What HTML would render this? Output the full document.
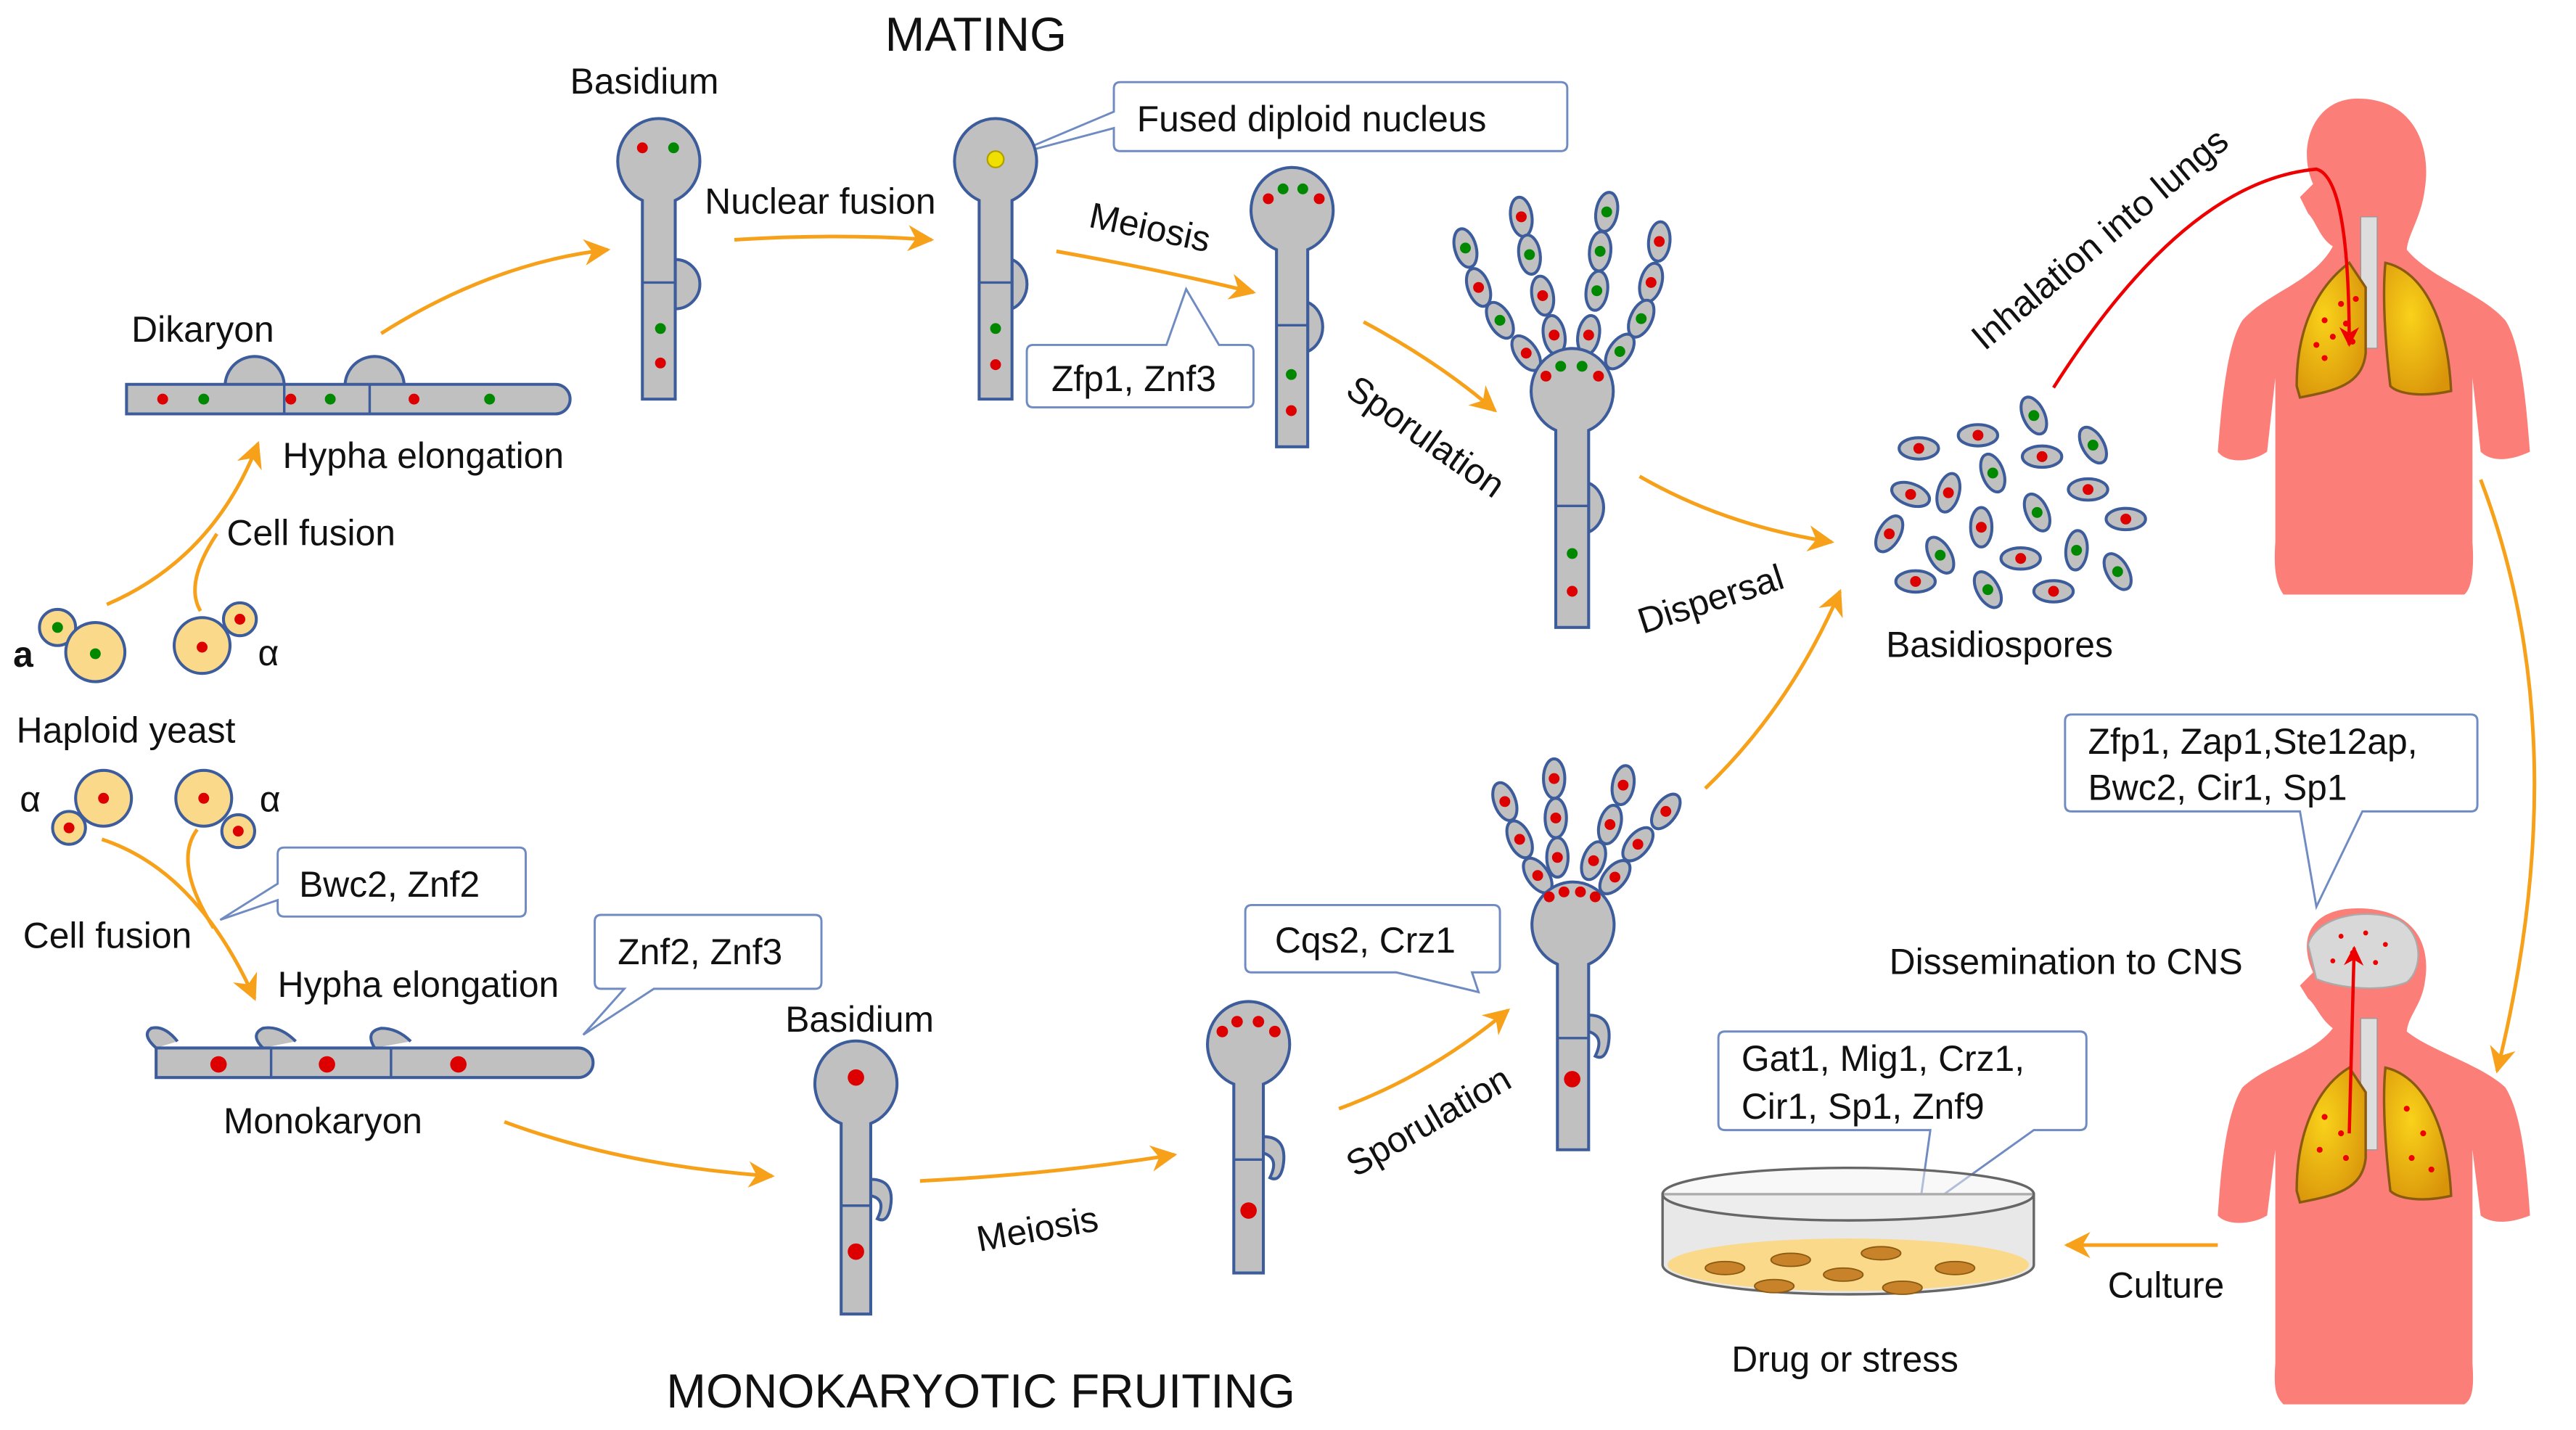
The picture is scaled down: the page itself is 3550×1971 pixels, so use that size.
<!DOCTYPE html>
<html><head><meta charset="utf-8"><style>
html,body{margin:0;padding:0;background:#fff}
svg{display:block}
text{font-family:"Liberation Sans",Arial,sans-serif;fill:#111;font-size:22px}
.c{fill:#c0c0c0;stroke:#3d5c9c;stroke-width:1.8}
.a{fill:none;stroke:#f7a11a;stroke-width:2.2}
.bx{fill:#fff;stroke:#6f8bc2;stroke-width:1.3}
.y{fill:#fbd98a;stroke:#3d5c9c;stroke-width:1.8}
</style></head><body>
<svg width="3550" height="1971" viewBox="0 0 1568 870.6" xmlns="http://www.w3.org/2000/svg">
<defs>
<marker id="mo" viewBox="0 0 10 10" refX="9" refY="5" markerWidth="16" markerHeight="16" orient="auto" markerUnits="userSpaceOnUse">
<path d="M0,0 L10,5 L0,10 L3,5 z" fill="#f7a11a"/></marker>
<marker id="mr" viewBox="0 0 10 10" refX="9" refY="5" markerWidth="12" markerHeight="12" orient="auto" markerUnits="userSpaceOnUse">
<path d="M0,0 L10,5 L0,10 L3,5 z" fill="#e00"/></marker>
<radialGradient id="lg" cx="0.4" cy="0.4" r="0.7"><stop offset="0" stop-color="#f9d21a"/><stop offset="1" stop-color="#d9940a"/></radialGradient>
</defs>

<text x="594" y="31" text-anchor="middle" style="font-size:29px">MATING</text>
<text x="597" y="857" text-anchor="middle" style="font-size:29px">MONOKARYOTIC FRUITING</text>

<text x="347" y="57">Basidium</text>
<text x="80" y="208">Dikaryon</text>
<text x="429" y="130">Nuclear fusion</text>
<text x="172" y="285">Hypha elongation</text>
<text x="138" y="332">Cell fusion</text>
<text x="8" y="406" style="font-weight:bold">a</text>
<text x="157" y="405">α</text>
<text x="10" y="452">Haploid yeast</text>
<text x="12" y="494">α</text>
<text x="158" y="494">α</text>
<text x="14" y="577">Cell fusion</text>
<text x="169" y="607">Hypha elongation</text>
<text x="136" y="690">Monokaryon</text>
<text x="478" y="628">Basidium</text>
<text x="1148" y="400">Basidiospores</text>
<text x="1150" y="593">Dissemination  to CNS</text>
<text x="1283" y="790">Culture</text>
<text x="1054" y="835">Drug or stress</text>
<text transform="translate(662,138) rotate(12)">Meiosis</text>
<text transform="translate(818,240) rotate(35)">Sporulation</text>
<text transform="translate(1000,386) rotate(-18)">Dispersal</text>
<text transform="translate(1208,214) rotate(-40)">Inhalation into lungs</text>
<text transform="translate(596,762) rotate(-10)">Meiosis</text>
<text transform="translate(825,717) rotate(-30)">Sporulation</text>

<path class="bx" d="M682,50 H950 Q954,50 954,54 V88 Q954,92 950,92 H682 Q678,92 678,88 V78 L614,95 L678,68 V54 Q678,50 682,50 Z"/>
<text x="692" y="80">Fused diploid nucleus</text>
<path class="bx" d="M629,210 H710 L722,176 L742,210 H759 Q763,210 763,214 V244 Q763,248 759,248 H629 Q625,248 625,244 V214 Q625,210 629,210 Z"/>
<text x="640" y="238">Zfp1, Znf3</text>
<path class="bx" d="M173,516 H316 Q320,516 320,520 V554 Q320,558 316,558 H173 Q169,558 169,554 V548 L134,560 L169,538 V520 Q169,516 173,516 Z"/>
<text x="182" y="546">Bwc2, Znf2</text>
<path class="bx" d="M366,557 H496 Q500,557 500,561 V598 Q500,602 496,602 H398 L355,630 L380,602 H366 Q362,602 362,598 V561 Q362,557 366,557 Z"/>
<text x="376" y="587">Znf2, Znf3</text>
<path class="bx" d="M762,551 H909 Q913,551 913,555 V588 Q913,592 909,592 H896 L900,604 L850,592 H762 Q758,592 758,588 V555 Q758,551 762,551 Z"/>
<text x="776" y="580">Cqs2, Crz1</text>
<path class="bx" d="M1261,435 H1504 Q1508,435 1508,439 V490 Q1508,494 1504,494 H1438 L1410,552 L1400,494 H1261 Q1257,494 1257,490 V439 Q1257,435 1261,435 Z"/>
<text x="1271" y="459">Zfp1, Zap1,Ste12ap,</text>
<text x="1271" y="487">Bwc2, Cir1, Sp1</text>
<path class="bx" d="M1050,628 H1266 Q1270,628 1270,632 V684 Q1270,688 1266,688 H1238 L1168,738 L1175,688 H1050 Q1046,688 1046,684 V632 Q1046,628 1050,628 Z"/>
<text x="1060" y="652">Gat1, Mig1, Crz1,</text>
<text x="1060" y="681">Cir1, Sp1, Znf9</text>

<path class="a" marker-end="url(#mo)" d="M232,203 Q300,160 370,152"/>
<path class="a" marker-end="url(#mo)" d="M447,146 Q510,142 567,146"/>
<path class="a" marker-end="url(#mo)" d="M643,153 Q710,165 763,178"/>
<path class="a" marker-end="url(#mo)" d="M830,196 Q875,220 910,250"/>
<path class="a" marker-end="url(#mo)" d="M998,290 Q1050,320 1115,330"/>
<path class="a" marker-end="url(#mo)" d="M65,368 Q130,340 157,270"/>
<path class="a" d="M122,372 Q112,355 132,325"/>
<path class="a" marker-end="url(#mo)" d="M62,511 Q120,530 155,608"/>
<path class="a" d="M120,505 Q105,525 130,565"/>
<path class="a" marker-end="url(#mo)" d="M307,683 Q380,710 470,716"/>
<path class="a" marker-end="url(#mo)" d="M560,719 Q640,715 715,703"/>
<path class="a" marker-end="url(#mo)" d="M815,675 Q870,655 918,615"/>
<path class="a" marker-end="url(#mo)" d="M1038,480 Q1090,430 1120,360"/>
<path class="a" marker-end="url(#mo)" d="M1510,292 Q1570,450 1520,652"/>
<path class="a" marker-end="url(#mo)" d="M1350,758 L1258,758"/>

<path class="c" d="M137,235 A18,18 0 0 1 173,235 Z"/>
<path class="c" d="M210,235 A18,18 0 0 1 246,235 Z"/>
<path class="c" d="M77,234 H338 A9,9 0 0 1 338,252 H77 Z"/>
<line x1="173" y1="234" x2="173" y2="252" stroke="#3d5c9c" stroke-width="1.5"/>
<line x1="225" y1="234" x2="225" y2="252" stroke="#3d5c9c" stroke-width="1.5"/>
<circle cx="99" cy="243" r="3.3" fill="#d00"/><circle cx="124" cy="243" r="3.3" fill="#080"/>
<circle cx="177" cy="243" r="3.3" fill="#d00"/><circle cx="201" cy="243" r="3.3" fill="#080"/>
<circle cx="252" cy="243" r="3.3" fill="#d00"/><circle cx="298" cy="243" r="3.3" fill="#080"/>

<path class="c" d="M411,158 A14,14 0 0 1 411,188 Z"/>
<path class="c" d="M391,243 V122 A25,26 0 1 1 411,122 V243 Z"/>
<line x1="391" y1="172" x2="411" y2="172" stroke="#3d5c9c" stroke-width="1.5"/>
<circle cx="391" cy="90" r="3.3" fill="#d00"/><circle cx="410" cy="90" r="3.3" fill="#080"/>
<circle cx="402" cy="200" r="3.3" fill="#080"/><circle cx="402" cy="221" r="3.3" fill="#d00"/>

<path class="c" d="M616,158 A14,16 0 0 1 616,188 Z"/>
<path class="c" d="M596,243 V122 A25,26 0 1 1 616,122 V243 Z"/>
<line x1="596" y1="172" x2="616" y2="172" stroke="#3d5c9c" stroke-width="1.5"/>
<circle cx="606" cy="97" r="5" fill="#f0e000" stroke="#b0a000"/>
<circle cx="606" cy="200" r="3.3" fill="#080"/><circle cx="606" cy="222" r="3.3" fill="#d00"/>

<path class="c" d="M796,184 A14,16 0 0 1 796,214 Z"/>
<path class="c" d="M777,272 V152 A25,26 0 1 1 796,152 V272 Z"/>
<line x1="777" y1="198" x2="796" y2="198" stroke="#3d5c9c" stroke-width="1.5"/>
<circle cx="772" cy="121" r="3.3" fill="#d00"/><circle cx="781" cy="115" r="3.3" fill="#080"/>
<circle cx="793" cy="115" r="3.3" fill="#080"/><circle cx="803" cy="121" r="3.3" fill="#d00"/>
<circle cx="786" cy="228" r="3.3" fill="#080"/><circle cx="786" cy="250" r="3.3" fill="#d00"/>

<g>
<ellipse class="c" cx="892" cy="151" rx="6.5" ry="12" transform="rotate(-15 892 151)"/><circle cx="892" cy="151" r="3.3" fill="#080"/>
<ellipse class="c" cx="900" cy="175" rx="6.5" ry="12" transform="rotate(-20 900 175)"/><circle cx="900" cy="175" r="3.3" fill="#d00"/>
<ellipse class="c" cx="913" cy="195" rx="6.5" ry="12" transform="rotate(-30 913 195)"/><circle cx="913" cy="195" r="3.3" fill="#080"/>
<ellipse class="c" cx="929" cy="215" rx="6.5" ry="12" transform="rotate(-35 929 215)"/><circle cx="929" cy="215" r="3.3" fill="#d00"/>
<ellipse class="c" cx="926" cy="132" rx="6.5" ry="12" transform="rotate(-8 926 132)"/><circle cx="926" cy="132" r="3.3" fill="#d00"/>
<ellipse class="c" cx="931" cy="155" rx="6.5" ry="12" transform="rotate(-8 931 155)"/><circle cx="931" cy="155" r="3.3" fill="#080"/>
<ellipse class="c" cx="939" cy="180" rx="6.5" ry="12" transform="rotate(-10 939 180)"/><circle cx="939" cy="180" r="3.3" fill="#d00"/>
<ellipse class="c" cx="946" cy="204" rx="6.5" ry="12" transform="rotate(-10 946 204)"/><circle cx="946" cy="204" r="3.3" fill="#d00"/>
<ellipse class="c" cx="978" cy="129" rx="6.5" ry="12" transform="rotate(10 978 129)"/><circle cx="978" cy="129" r="3.3" fill="#080"/>
<ellipse class="c" cx="974" cy="153" rx="6.5" ry="12" transform="rotate(5 974 153)"/><circle cx="974" cy="153" r="3.3" fill="#080"/>
<ellipse class="c" cx="972" cy="177" rx="6.5" ry="12" transform="rotate(8 972 177)"/><circle cx="972" cy="177" r="3.3" fill="#080"/>
<ellipse class="c" cx="967" cy="204" rx="6.5" ry="12" transform="rotate(10 967 204)"/><circle cx="967" cy="204" r="3.3" fill="#d00"/>
<ellipse class="c" cx="1010" cy="147" rx="6.5" ry="12" transform="rotate(5 1010 147)"/><circle cx="1010" cy="147" r="3.3" fill="#d00"/>
<ellipse class="c" cx="1005" cy="172" rx="6.5" ry="12" transform="rotate(15 1005 172)"/><circle cx="1005" cy="172" r="3.3" fill="#d00"/>
<ellipse class="c" cx="999" cy="194" rx="6.5" ry="12" transform="rotate(25 999 194)"/><circle cx="999" cy="194" r="3.3" fill="#080"/>
<ellipse class="c" cx="986" cy="214" rx="6.5" ry="12" transform="rotate(35 986 214)"/><circle cx="986" cy="214" r="3.3" fill="#080"/>
</g>
<path class="c" d="M967,294 A14,16 0 0 1 967,324 Z"/>
<path class="c" d="M947,382 V262 A25,26 0 1 1 967,262 V382 Z"/>
<line x1="947" y1="308" x2="967" y2="308" stroke="#3d5c9c" stroke-width="1.5"/>
<circle cx="941" cy="229" r="3.3" fill="#d00"/><circle cx="950" cy="223" r="3.3" fill="#080"/>
<circle cx="963" cy="223" r="3.3" fill="#080"/><circle cx="973" cy="229" r="3.3" fill="#d00"/>
<circle cx="957" cy="337" r="3.3" fill="#080"/><circle cx="957" cy="360" r="3.3" fill="#d00"/>

<g>
<ellipse class="c" cx="1168" cy="273" rx="12" ry="6.5"/><circle cx="1168" cy="273" r="3.3" fill="#d00"/>
<ellipse class="c" cx="1204" cy="265" rx="12" ry="6.5"/><circle cx="1204" cy="265" r="3.3" fill="#d00"/>
<ellipse class="c" cx="1238" cy="253" rx="6.5" ry="12" transform="rotate(-25 1238 253)"/><circle cx="1238" cy="253" r="3.3" fill="#080"/>
<ellipse class="c" cx="1274" cy="271" rx="6.5" ry="12" transform="rotate(-30 1274 271)"/><circle cx="1274" cy="271" r="3.3" fill="#080"/>
<ellipse class="c" cx="1243" cy="278" rx="12" ry="6.5"/><circle cx="1243" cy="278" r="3.3" fill="#d00"/>
<ellipse class="c" cx="1213" cy="288" rx="6.5" ry="12" transform="rotate(-20 1213 288)"/><circle cx="1213" cy="288" r="3.3" fill="#080"/>
<ellipse class="c" cx="1271" cy="298" rx="12" ry="6.5"/><circle cx="1271" cy="298" r="3.3" fill="#d00"/>
<ellipse class="c" cx="1163" cy="301" rx="12" ry="6.5" transform="rotate(20 1163 301)"/><circle cx="1163" cy="301" r="3.3" fill="#d00"/>
<ellipse class="c" cx="1186" cy="300" rx="6.5" ry="12" transform="rotate(15 1186 300)"/><circle cx="1186" cy="300" r="3.3" fill="#d00"/>
<ellipse class="c" cx="1240" cy="312" rx="6.5" ry="12" transform="rotate(-25 1240 312)"/><circle cx="1240" cy="312" r="3.3" fill="#080"/>
<ellipse class="c" cx="1206" cy="321" rx="6.5" ry="12"/><circle cx="1206" cy="321" r="3.3" fill="#d00"/>
<ellipse class="c" cx="1294" cy="316" rx="12" ry="6.5"/><circle cx="1294" cy="316" r="3.3" fill="#d00"/>
<ellipse class="c" cx="1150" cy="325" rx="6.5" ry="12" transform="rotate(30 1150 325)"/><circle cx="1150" cy="325" r="3.3" fill="#d00"/>
<ellipse class="c" cx="1181" cy="338" rx="6.5" ry="12" transform="rotate(-30 1181 338)"/><circle cx="1181" cy="338" r="3.3" fill="#080"/>
<ellipse class="c" cx="1230" cy="340" rx="12" ry="6.5"/><circle cx="1230" cy="340" r="3.3" fill="#d00"/>
<ellipse class="c" cx="1264" cy="335" rx="6.5" ry="12" transform="rotate(5 1264 335)"/><circle cx="1264" cy="335" r="3.3" fill="#080"/>
<ellipse class="c" cx="1289" cy="348" rx="6.5" ry="12" transform="rotate(-30 1289 348)"/><circle cx="1289" cy="348" r="3.3" fill="#080"/>
<ellipse class="c" cx="1166" cy="354" rx="12" ry="6.5"/><circle cx="1166" cy="354" r="3.3" fill="#d00"/>
<ellipse class="c" cx="1210" cy="359" rx="6.5" ry="12" transform="rotate(-30 1210 359)"/><circle cx="1210" cy="359" r="3.3" fill="#080"/>
<ellipse class="c" cx="1250" cy="360" rx="12" ry="6.5"/><circle cx="1250" cy="360" r="3.3" fill="#d00"/>
</g>

<g fill="#fb7f78">
<path d="M1435,60 C1470,60 1480,90 1476,115 C1474,132 1466,142 1465,152 C1480,170 1510,178 1525,195 C1535,210 1538,250 1540,275 C1525,282 1515,280 1510,275 L1505,230 L1505,330 C1506,345 1505,358 1500,362 L1390,362 C1385,355 1384,345 1385,330 L1385,230 L1380,275 C1370,282 1355,282 1350,275 C1352,250 1355,210 1365,195 C1380,178 1408,172 1420,150 C1412,145 1410,135 1405,130 L1400,120 L1408,112 C1398,90 1408,60 1435,60 Z"/>
</g>
<rect x="1437" y="132" width="10" height="80" fill="#ddd" stroke="#999" stroke-width="0.6"/>
<path d="M1430,160 C1410,175 1398,200 1398,235 L1400,242 C1420,238 1438,235 1440,215 L1440,175 Z" fill="url(#lg)" stroke="#8a5a10" stroke-width="1.5"/>
<path d="M1452,160 C1475,165 1490,195 1492,238 C1475,242 1460,240 1455,235 C1452,210 1450,180 1452,160 Z" fill="url(#lg)" stroke="#8a5a10" stroke-width="1.5"/>
<g fill="#e00"><circle cx="1425" cy="185" r="1.8"/><circle cx="1434" cy="182" r="1.8"/><circle cx="1415" cy="195" r="1.8"/><circle cx="1428" cy="197" r="1.8"/><circle cx="1420" cy="205" r="1.8"/><circle cx="1410" cy="210" r="1.8"/><circle cx="1432" cy="208" r="1.8"/><circle cx="1415" cy="218" r="1.8"/></g>
<path d="M1250,236 Q1330,110 1410,103 Q1430,108 1430,210" fill="none" stroke="#e00" stroke-width="2" marker-end="url(#mr)"/>

<circle class="y" cx="35" cy="382" r="11"/><circle class="y" cx="58" cy="397" r="18"/>
<circle cx="35" cy="382" r="3.3" fill="#080"/><circle cx="58" cy="398" r="3.3" fill="#080"/>
<circle class="y" cx="123" cy="393" r="17"/><circle class="y" cx="146" cy="377" r="10"/>
<circle cx="123" cy="394" r="3.3" fill="#d00"/><circle cx="146" cy="377" r="3.3" fill="#d00"/>
<circle class="y" cx="63" cy="486" r="17"/><circle class="y" cx="42" cy="504" r="10"/>
<circle cx="63" cy="486" r="3.3" fill="#d00"/><circle cx="42" cy="504" r="3.3" fill="#d00"/>
<circle class="y" cx="124" cy="486" r="17"/><circle class="y" cx="145" cy="506" r="10"/>
<circle cx="124" cy="486" r="3.3" fill="#d00"/><circle cx="145" cy="506" r="3.3" fill="#d00"/>

<path class="c" d="M95,638 Q86,630 92,626 Q100,624 108,634"/>
<path class="c" d="M160,638 Q152,630 160,626 Q170,624 180,634"/>
<path class="c" d="M228,638 Q222,628 232,626 Q242,626 250,634"/>
<path class="c" d="M95,638 H352 A9,9 0 0 1 352,656 H95 Z"/>
<line x1="165" y1="638" x2="165" y2="656" stroke="#3d5c9c" stroke-width="1.5"/>
<line x1="238" y1="638" x2="238" y2="656" stroke="#3d5c9c" stroke-width="1.5"/>
<circle cx="133" cy="648" r="5" fill="#d00"/><circle cx="199" cy="648" r="5" fill="#d00"/><circle cx="279" cy="648" r="5" fill="#d00"/>

<path class="c" d="M530,718 Q545,718 542,735 Q540,745 534,742 Q540,730 530,728 Z"/>
<path class="c" d="M512,800 V684 A25,26 0 1 1 530,684 V800 Z"/>
<line x1="512" y1="734" x2="530" y2="734" stroke="#3d5c9c" stroke-width="1.5"/>
<circle cx="521" cy="656" r="5" fill="#d00"/><circle cx="521" cy="762" r="5" fill="#d00"/>

<path class="c" d="M769,692 Q784,692 781,710 Q779,720 773,717 Q779,705 769,702 Z"/>
<path class="c" d="M751,775 V660 A25,26 0 1 1 769,660 V775 Z"/>
<line x1="751" y1="706" x2="769" y2="706" stroke="#3d5c9c" stroke-width="1.5"/>
<circle cx="744" cy="628" r="3.5" fill="#d00"/><circle cx="753" cy="622" r="3.5" fill="#d00"/>
<circle cx="766" cy="622" r="3.5" fill="#d00"/><circle cx="776" cy="628" r="3.5" fill="#d00"/>
<circle cx="760" cy="737" r="5" fill="#d00"/>

<g>
<ellipse class="c" cx="916" cy="488" rx="6.5" ry="12" transform="rotate(-20 916 488)"/><circle cx="916" cy="488" r="3.3" fill="#d00"/>
<ellipse class="c" cx="925" cy="511" rx="6.5" ry="12" transform="rotate(-25 925 511)"/><circle cx="925" cy="511" r="3.3" fill="#d00"/>
<ellipse class="c" cx="936" cy="533" rx="6.5" ry="12" transform="rotate(-35 936 533)"/><circle cx="936" cy="533" r="3.3" fill="#d00"/>
<ellipse class="c" cx="946" cy="474" rx="6.5" ry="12"/><circle cx="946" cy="474" r="3.3" fill="#d00"/>
<ellipse class="c" cx="947" cy="498" rx="6.5" ry="12"/><circle cx="947" cy="498" r="3.3" fill="#d00"/>
<ellipse class="c" cx="948" cy="522" rx="6.5" ry="12"/><circle cx="948" cy="522" r="3.3" fill="#d00"/>
<ellipse class="c" cx="988" cy="478" rx="6.5" ry="12" transform="rotate(10 988 478)"/><circle cx="988" cy="478" r="3.3" fill="#d00"/>
<ellipse class="c" cx="980" cy="502" rx="6.5" ry="12" transform="rotate(15 980 502)"/><circle cx="980" cy="502" r="3.3" fill="#d00"/>
<ellipse class="c" cx="970" cy="524" rx="6.5" ry="12" transform="rotate(20 970 524)"/><circle cx="970" cy="524" r="3.3" fill="#d00"/>
<ellipse class="c" cx="1014" cy="494" rx="6.5" ry="12" transform="rotate(35 1014 494)"/><circle cx="1014" cy="494" r="3.3" fill="#d00"/>
<ellipse class="c" cx="997" cy="514" rx="6.5" ry="12" transform="rotate(40 997 514)"/><circle cx="997" cy="514" r="3.3" fill="#d00"/>
<ellipse class="c" cx="983" cy="534" rx="6.5" ry="12" transform="rotate(40 983 534)"/><circle cx="983" cy="534" r="3.3" fill="#d00"/>
</g>
<path class="c" d="M967,618 Q982,618 979,636 Q977,646 971,643 Q977,631 967,628 Z"/>
<path class="c" d="M948,700 V587 A25,26 0 1 1 967,587 V700 Z"/>
<line x1="948" y1="632" x2="967" y2="632" stroke="#3d5c9c" stroke-width="1.5"/>
<circle cx="943" cy="546" r="3.3" fill="#d00"/><circle cx="952" cy="543" r="3.3" fill="#d00"/>
<circle cx="962" cy="543" r="3.3" fill="#d00"/><circle cx="971" cy="546" r="3.3" fill="#d00"/>
<circle cx="957" cy="657" r="5" fill="#d00"/>

<g fill="#fb7f78">
<path d="M1435,553 C1470,553 1480,575 1476,598 C1474,612 1466,618 1465,628 C1480,640 1510,648 1525,662 C1535,678 1538,710 1540,740 C1525,746 1515,744 1510,740 L1505,700 L1505,830 C1506,845 1505,852 1500,855 L1390,855 C1385,850 1384,845 1385,830 L1385,700 L1380,740 C1370,746 1355,746 1350,740 C1352,710 1355,678 1365,662 C1380,648 1408,642 1420,626 C1412,620 1410,612 1405,608 L1400,600 L1408,592 C1398,570 1408,553 1435,553 Z"/>
</g>
<path d="M1405,575 C1410,558 1440,552 1460,560 C1475,568 1475,590 1465,598 C1450,604 1425,602 1410,596 Z" fill="#d8d8d8" stroke="#aaa" stroke-width="1"/>
<g fill="#e00"><circle cx="1425" cy="570" r="1.5"/><circle cx="1440" cy="568" r="1.5"/><circle cx="1452" cy="575" r="1.5"/><circle cx="1432" cy="580" r="1.5"/><circle cx="1446" cy="586" r="1.5"/><circle cx="1420" cy="585" r="1.5"/></g>
<rect x="1437" y="620" width="10" height="80" fill="#ddd" stroke="#999" stroke-width="0.6"/>
<path d="M1430,650 C1410,662 1398,690 1398,725 L1400,732 C1420,728 1438,725 1440,705 L1440,665 Z" fill="url(#lg)" stroke="#8a5a10" stroke-width="1.5"/>
<path d="M1452,650 C1475,655 1490,685 1492,728 C1475,732 1460,730 1455,725 C1452,700 1450,670 1452,650 Z" fill="url(#lg)" stroke="#8a5a10" stroke-width="1.5"/>
<g fill="#e00"><circle cx="1415" cy="680" r="1.8"/><circle cx="1425" cy="690" r="1.8"/><circle cx="1412" cy="700" r="1.8"/><circle cx="1428" cy="705" r="1.8"/><circle cx="1465" cy="675" r="1.8"/><circle cx="1475" cy="690" r="1.8"/><circle cx="1468" cy="705" r="1.8"/><circle cx="1480" cy="712" r="1.8"/></g>
<path d="M1430,690 L1433,577" stroke="#e00" stroke-width="2" marker-end="url(#mr)"/>

<path d="M1012,727 V770 A113,18 0 0 0 1238,770 V727 Z" fill="#e8e8e8" stroke="#666" stroke-width="1.5"/>
<ellipse cx="1125" cy="770" rx="110" ry="16" fill="#fbd98a"/>
<ellipse cx="1125" cy="727" rx="113" ry="16" fill="#f2f2f2" stroke="#666" stroke-width="1.5" fill-opacity="0.5"/>
<g fill="#c8822a" stroke="#8a5a10" stroke-width="0.8">
<ellipse cx="1050" cy="772" rx="12" ry="4"/><ellipse cx="1090" cy="767" rx="12" ry="4"/><ellipse cx="1145" cy="763" rx="12" ry="4"/>
<ellipse cx="1122" cy="776" rx="12" ry="4"/><ellipse cx="1190" cy="772" rx="12" ry="4"/><ellipse cx="1080" cy="783" rx="12" ry="4"/><ellipse cx="1158" cy="784" rx="12" ry="4"/>
</g>
</svg>
</body></html>
